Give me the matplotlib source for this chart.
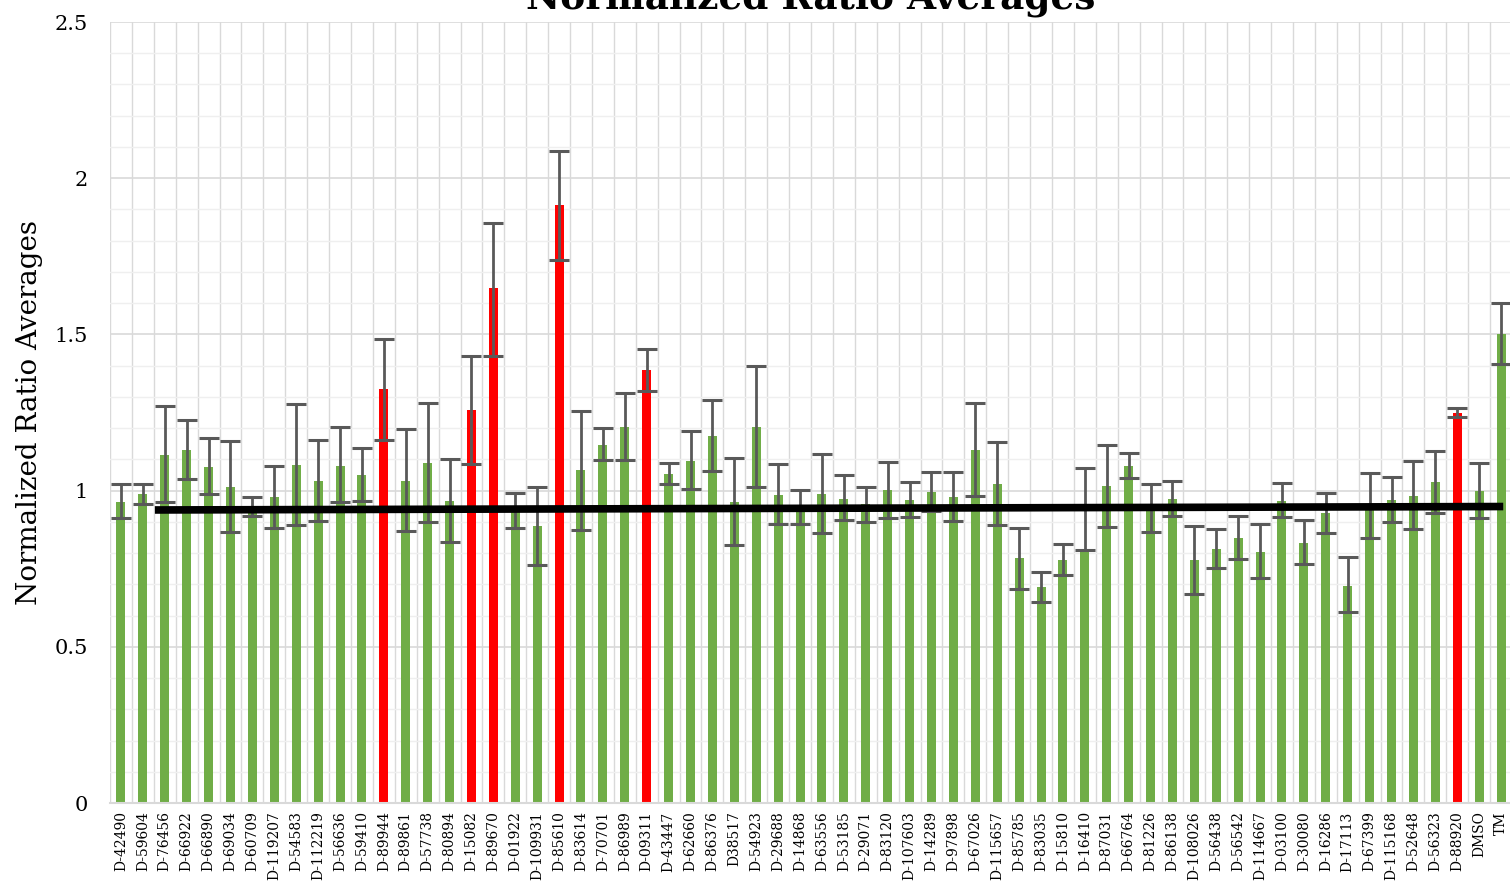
import numpy as np
import matplotlib
matplotlib.use("Agg")
import matplotlib.pyplot as plt
from matplotlib.ticker import MultipleLocator, FuncFormatter

compounds = [
    "D-42490", "D-59604", "D-76456", "D-66922", "D-66890", "D-69034", "D-60709", "D-119207",
    "D-54583", "D-112219", "D-56636", "D-59410", "D-89944", "D-89861", "D-57738", "D-80894",
    "D-15082", "D-89670", "D-01922", "D-109931", "D-85610", "D-83614", "D-70701", "D-86989",
    "D-09311", "D-43447", "D-62660", "D-86376", "D38517", "D-54923", "D-29688", "D-14868",
    "D-63556", "D-53185", "D-29071", "D-83120", "D-107603", "D-14289", "D-97898", "D-67026",
    "D-115657", "D-85785", "D-83035", "D-15810", "D-16410", "D-87031", "D-66764", "D-81226",
    "D-86138", "D-108026", "D-56438", "D-56542", "D-114667", "D-03100", "D-30080", "D-16286",
    "D-17113", "D-67399", "D-115168", "D-52648", "D-56323", "D-88920", "DMSO", "TM",
]

ratio_avg = [
    0.965, 0.988, 1.115, 1.130, 1.077, 1.013, 0.950, 0.978,
    1.083, 1.032, 1.080, 1.049, 1.325, 1.032, 1.089, 0.966,
    1.258, 1.647, 0.935, 0.886, 1.914, 1.065, 1.147, 1.205,
    1.387, 1.054, 1.096, 1.176, 0.964, 1.204, 0.987, 0.948,
    0.990, 0.974, 0.957, 1.002, 0.970, 0.997, 0.980, 1.130,
    1.022, 0.783, 0.691, 0.778, 0.811, 1.016, 1.080, 0.943,
    0.974, 0.778, 0.813, 0.848, 0.805, 0.968, 0.832, 0.929,
    0.696, 0.952, 0.970, 0.984, 1.027, 1.249, 1.000, 1.500,
]

err_hi = [
    0.056, 0.034, 0.155, 0.096, 0.091, 0.147, 0.030, 0.100,
    0.195, 0.131, 0.124, 0.087, 0.161, 0.164, 0.192, 0.136,
    0.174, 0.210, 0.056, 0.126, 0.174, 0.190, 0.052, 0.109,
    0.067, 0.033, 0.096, 0.115, 0.141, 0.194, 0.097, 0.054,
    0.128, 0.075, 0.056, 0.091, 0.056, 0.063, 0.080, 0.151,
    0.133, 0.098, 0.048, 0.051, 0.262, 0.131, 0.041, 0.077,
    0.057, 0.110, 0.064, 0.071, 0.088, 0.057, 0.073, 0.064,
    0.090, 0.105, 0.074, 0.110, 0.100, 0.017, 0.089, 0.099,
]

err_lo = [
    0.053, 0.032, 0.152, 0.093, 0.089, 0.146, 0.030, 0.099,
    0.193, 0.130, 0.118, 0.081, 0.163, 0.162, 0.189, 0.130,
    0.173, 0.215, 0.056, 0.125, 0.175, 0.190, 0.048, 0.108,
    0.068, 0.032, 0.091, 0.112, 0.138, 0.191, 0.094, 0.055,
    0.126, 0.069, 0.056, 0.090, 0.053, 0.062, 0.078, 0.148,
    0.132, 0.098, 0.046, 0.048, 0.000, 0.131, 0.039, 0.076,
    0.055, 0.109, 0.061, 0.067, 0.084, 0.054, 0.067, 0.065,
    0.086, 0.105, 0.070, 0.108, 0.098, 0.015, 0.088, 0.094,
]

# compounds flagged as hits (drawn in red)
hits = ["D-89944", "D-15082", "D-89670", "D-85610", "D-09311", "D-88920"]

# reference line drawn across the chart (category position, ratio)
ref_line_x = [1.55, 63.1]
ref_line_y = [0.938, 0.949]

GREEN = "#70AD47"
RED = "#FF0000"
GRID = "#D9D9D9"
MINOR_GRID = "#EFEFEF"
SERIF = "DejaVu Serif"

plt.rcParams["font.family"] = SERIF

fig = plt.figure(figsize=(15.10, 8.88), dpi=100)
ax = fig.add_axes([110 / 1510, 1 - 803 / 888, 1402 / 1510, 781 / 888])

x = np.arange(len(compounds))
colors = [RED if c in hits else GREEN for c in compounds]

ax.bar(x, ratio_avg, width=0.41, color=colors, zorder=2)
ax.errorbar(x, ratio_avg, yerr=[err_lo, err_hi], fmt="none", ecolor="#595959",
            elinewidth=2.0, capsize=7.5, capthick=2.2, zorder=3)

ax.plot(ref_line_x, ref_line_y, color="black", linewidth=5.5,
        solid_capstyle="butt", zorder=4)

ax.set_xlim(-0.5, len(compounds) - 0.5)
ax.set_ylim(0, 2.5)

# category boundaries as vertical grid
for b in np.arange(-0.5, len(compounds), 1.0):
    ax.axvline(b, color=GRID, linewidth=1.0, zorder=0)

ax.yaxis.set_major_locator(MultipleLocator(0.5))
ax.yaxis.set_minor_locator(MultipleLocator(0.1))
ax.yaxis.set_major_formatter(FuncFormatter(lambda v, p: f"{v:g}"))
ax.grid(axis="y", which="major", color=GRID, linewidth=1.2, zorder=0)
ax.grid(axis="y", which="minor", color=MINOR_GRID, linewidth=1.0, zorder=0)
ax.set_axisbelow(True)

ax.set_xticks(x)
ax.set_xticklabels(compounds, rotation=90, fontsize=10)
ax.tick_params(axis="both", which="both", length=0)
ax.tick_params(axis="y", labelsize=15, pad=16)
ax.tick_params(axis="x", pad=6)

for side in ["top", "right", "left"]:
    ax.spines[side].set_visible(False)
ax.spines["bottom"].set_color(GRID)
ax.spines["bottom"].set_linewidth(1.5)

ax.set_ylabel("Normalized Ratio Averages", fontsize=20, labelpad=8)
ax.set_title("Normalized Ratio Averages", fontsize=27, fontweight="bold", pad=10)

fig.savefig("out.png", dpi=100)
